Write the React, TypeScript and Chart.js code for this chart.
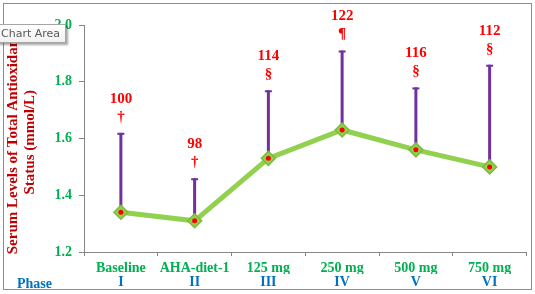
import React, { useEffect, useRef } from "react";
import { Chart, registerables } from "chart.js";

Chart.register(...registerables);

const phaseNames = ["Baseline", "AHA-diet-1", "125 mg", "250 mg", "500 mg", "750 mg"];
const phaseNumerals = ["I", "II", "III", "IV", "V", "VI"];
const meanValues = [1.34, 1.31, 1.53, 1.63, 1.56, 1.5];
const upperValues = [1.62, 1.46, 1.77, 1.91, 1.78, 1.86];
const percentLabels = ["100", "98", "114", "122", "116", "112"];
const significanceMarks = ["\u2020", "\u2020", "\u00a7", "\u00b6", "\u00a7", "\u00a7"];
const yMin = 1.2;
const yMax = 2.0;
const yStep = 0.2;

const SERIF = "'Liberation Serif', 'Times New Roman', serif";

const overlayPlugin = {
  id: "overlay",
  beforeDatasetsDraw(chart: any) {
    const { ctx, scales } = chart;
    const x = scales.x;
    const y = scales.y;
    ctx.save();
    ctx.strokeStyle = "#7030A0";
    ctx.lineCap = "butt";
    meanValues.forEach((m, i) => {
      const px = x.getPixelForValue(i);
      const y0 = y.getPixelForValue(m);
      const y1 = y.getPixelForValue(upperValues[i]);
      ctx.lineWidth = 3;
      ctx.beginPath();
      ctx.moveTo(px, y0);
      ctx.lineTo(px, y1);
      ctx.stroke();
      ctx.lineWidth = 2;
      ctx.beginPath();
      ctx.moveTo(px - 3.5, y1 + 1);
      ctx.lineTo(px + 3.5, y1 + 1);
      ctx.stroke();
    });
    ctx.restore();
  },
  afterDatasetsDraw(chart: any) {
    const { ctx, scales } = chart;
    const x = scales.x;
    const y = scales.y;
    ctx.save();
    ctx.fillStyle = "#FF0000";
    ctx.textAlign = "center";
    ctx.textBaseline = "middle";
    ctx.font = `bold 15px ${SERIF}`;
    upperValues.forEach((u, i) => {
      const px = x.getPixelForValue(i);
      const py = y.getPixelForValue(u);
      ctx.fillText(percentLabels[i], px, py - 34);
      ctx.fillText(significanceMarks[i], px, py - 16);
    });
    ctx.restore();
  },
  afterDraw(chart: any) {
    const { ctx, scales } = chart;
    const x2 = scales.x2;
    ctx.save();
    ctx.fillStyle = "#0070C0";
    ctx.textAlign = "left";
    ctx.textBaseline = "middle";
    ctx.font = `bold 14px ${SERIF}`;
    ctx.fillText("Phase", 17, (x2.top + x2.bottom) / 2 + 2);
    ctx.restore();
  },
};

export default function App() {
  const canvasRef = useRef<HTMLCanvasElement | null>(null);

  useEffect(() => {
    const canvas = canvasRef.current;
    if (!canvas) return;
    const chart = new Chart(canvas, {
      type: "line",
      data: {
        labels: phaseNames,
        datasets: [
          {
            data: meanValues,
            borderColor: "#92D050",
            borderWidth: 5,
            pointStyle: "rectRot",
            pointRadius: 7,
            pointBackgroundColor: "#92D050",
            pointBorderColor: "#7DBB3C",
            pointBorderWidth: 1.5,
            tension: 0,
            clip: false,
            order: 2,
          },
          {
            data: meanValues,
            showLine: false,
            pointStyle: "circle",
            pointRadius: 2.5,
            pointBackgroundColor: "#FF0000",
            pointBorderColor: "#FF0000",
            pointBorderWidth: 0,
            clip: false,
            order: 1,
          },
        ],
      },
      options: {
        responsive: false,
        maintainAspectRatio: false,
        animation: false,
        events: [],
        layout: { padding: { left: 0, right: 5, top: 25, bottom: 4 } },
        plugins: {
          legend: { display: false },
          tooltip: { enabled: false },
        },
        scales: {
          x: {
            type: "category",
            position: "bottom",
            offset: true,
            weight: 1,
            afterFit(scale: any) {
              scale.height = 22;
            },
            grid: {
              display: true,
              offset: true,
              drawOnChartArea: false,
              drawTicks: true,
              tickLength: 4,
              color: "#868686",
            },
            border: { display: true, color: "#868686", width: 1 },
            ticks: {
              color: "#00B050",
              font: { family: SERIF, size: 14, weight: "bold", lineHeight: 1 },
              padding: 5,
              maxRotation: 0,
              autoSkip: false,
            },
          },
          x2: {
            type: "category",
            position: "bottom",
            labels: phaseNumerals,
            offset: true,
            weight: 2,
            afterFit(scale: any) {
              scale.height = 16;
            },
            grid: { display: false, drawTicks: false },
            border: { display: false },
            ticks: {
              color: "#0070C0",
              font: { family: SERIF, size: 14, weight: "bold", lineHeight: 1 },
              padding: 1,
              maxRotation: 0,
              autoSkip: false,
            },
          },
          y: {
            min: yMin,
            max: yMax,
            afterFit(scale: any) {
              scale.width = 84;
            },
            grid: {
              display: true,
              drawOnChartArea: false,
              drawTicks: true,
              tickLength: 5,
              color: "#868686",
            },
            border: { display: true, color: "#868686", width: 1 },
            ticks: {
              stepSize: yStep,
              color: "#00B050",
              font: { family: SERIF, size: 14, weight: "bold" },
              padding: 7,
              callback: (v: any) => Number(v).toFixed(1),
            },
            title: {
              display: true,
              text: ["Serum Levels of Total Antioxidant   ", "Status (mmol/L)  "],
              color: "#C00000",
              font: { family: SERIF, size: 15, weight: "bold", lineHeight: 1.13 },
              padding: { top: 5, bottom: 0 },
            },
          },
        },
      },
      plugins: [overlayPlugin],
    });
    return () => chart.destroy();
  }, []);

  return (
    <div style={{ position: "absolute", left: 0, top: 0, width: 535, height: 294, background: "#fff", overflow: "hidden" }}>
      <canvas ref={canvasRef} width={535} height={294} style={{ position: "absolute", left: 0, top: 0 }} />
      <div
        style={{
          position: "absolute",
          left: 3,
          top: 3,
          width: 527,
          height: 285,
          border: "1px solid #8C8C8C",
          pointerEvents: "none",
        }}
      />
      <div
        style={{
          position: "absolute",
          left: -4,
          top: 24,
          width: 64,
          height: 17,
          border: "1px solid #A6A6A6",
          background: "linear-gradient(#ffffff, #f1f1f1)",
          boxShadow: "2px 2px 2px rgba(0,0,0,0.35)",
          fontFamily: "'DejaVu Sans', sans-serif",
          fontSize: 11,
          color: "#575757",
          lineHeight: "17px",
          paddingLeft: 4,
          boxSizing: "content-box",
          whiteSpace: "nowrap",
        }}
      >
        Chart Area
      </div>
    </div>
  );
}
